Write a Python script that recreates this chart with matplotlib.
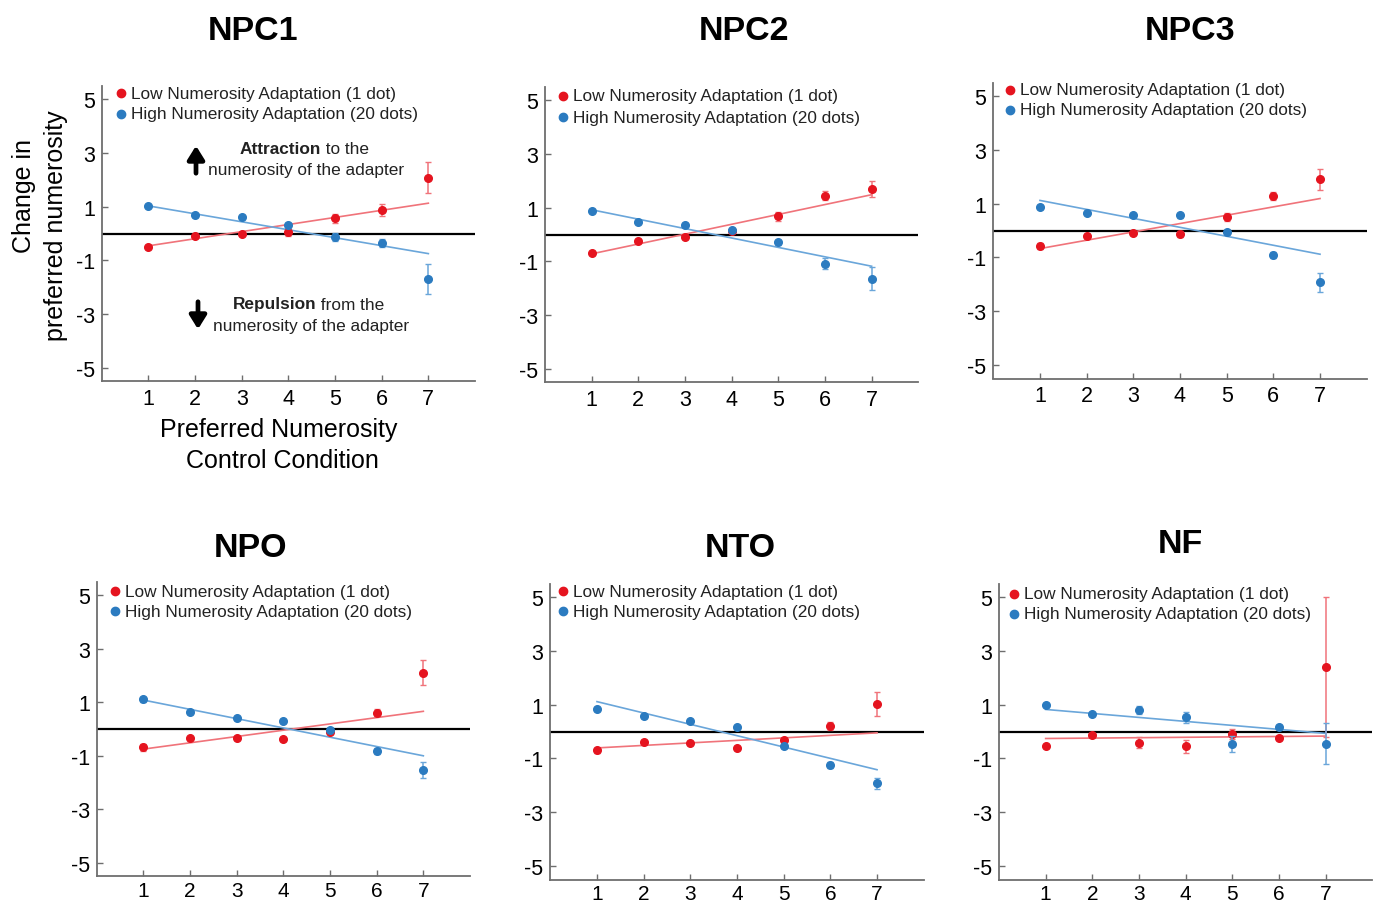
import matplotlib
matplotlib.use("Agg")
import matplotlib.pyplot as plt
from matplotlib.lines import Line2D
import numpy as np

plt.rcParams['font.family'] = ['Liberation Sans', 'DejaVu Sans']

W, H = 1380, 904

x_pos = [1, 2, 3, 4, 5, 6, 7]
titles = ["NPC1", "NPC2", "NPC3", "NPO", "NTO", "NF"]

low_vals = [
    [-0.52, -0.10, 0.00, 0.04, 0.56, 0.87, 2.08],
    [-0.70, -0.24, -0.11, 0.12, 0.67, 1.45, 1.70],
    [-0.58, -0.20, -0.09, -0.13, 0.50, 1.30, 1.90],
    [-0.69, -0.35, -0.35, -0.37, -0.12, 0.60, 2.10],
    [-0.70, -0.38, -0.43, -0.61, -0.31, 0.21, 1.03],
    [-0.55, -0.12, -0.41, -0.55, -0.09, -0.25, 2.41],
]
low_err = [
    [0.05, 0.07, 0.06, 0.12, 0.18, 0.22, 0.58],
    [0.07, 0.06, 0.06, 0.06, 0.17, 0.16, 0.30],
    [0.12, 0.06, 0.08, 0.10, 0.15, 0.15, 0.38],
    [0.13, 0.06, 0.06, 0.06, 0.06, 0.13, 0.47],
    [0.10, 0.06, 0.06, 0.06, 0.06, 0.15, 0.45],
    [0.06, 0.06, 0.20, 0.25, 0.20, 0.08, 2.60],
]
high_vals = [
    [1.03, 0.68, 0.60, 0.30, -0.12, -0.34, -1.69],
    [0.88, 0.47, 0.36, 0.15, -0.29, -1.08, -1.64],
    [0.88, 0.65, 0.56, 0.56, -0.06, -0.90, -1.93],
    [1.11, 0.62, 0.40, 0.31, -0.03, -0.82, -1.53],
    [0.84, 0.57, 0.39, 0.15, -0.55, -1.24, -1.92],
    [0.99, 0.64, 0.79, 0.53, -0.45, 0.18, -0.45],
]
high_err = [
    [0.05, 0.05, 0.06, 0.10, 0.15, 0.15, 0.56],
    [0.06, 0.05, 0.06, 0.07, 0.10, 0.20, 0.43],
    [0.07, 0.05, 0.06, 0.08, 0.08, 0.12, 0.37],
    [0.10, 0.05, 0.05, 0.05, 0.06, 0.12, 0.30],
    [0.06, 0.05, 0.05, 0.05, 0.06, 0.10, 0.20],
    [0.06, 0.05, 0.15, 0.20, 0.30, 0.06, 0.77],
]
# regression lines: value at x=1 and at x=7
low_fit = [
    [-0.46, 1.13],
    [-0.72, 1.48],
    [-0.67, 1.19],
    [-0.75, 0.66],
    [-0.61, -0.05],
    [-0.26, -0.17],
]
high_fit = [
    [1.03, -0.75],
    [0.92, -1.18],
    [1.12, -0.88],
    [1.08, -1.00],
    [1.11, -1.42],
    [0.82, -0.07],
]
fit_x = [1, 7]

y_ticks = [-5, -3, -1, 1, 3, 5]
legend_labels = ["Low Numerosity Adaptation (1 dot)", "High Numerosity Adaptation (20 dots)"]

RED = "#e5141f"
BLUE = "#2b7bc0"
RED_L = "#f0737a"
BLUE_L = "#6aa6da"
SPINE = "#6e6e6e"

# axes boxes in pixels: left, right, top, bottom
boxes = [
    (101.7, 475.0, 87.0, 382.0),
    (545.0, 918.3, 87.6, 383.4),
    (993.3, 1366.7, 83.6, 379.5),
    (96.7, 470.0, 582.6, 877.4),
    (550.3, 923.7, 584.5, 880.5),
    (999.0, 1372.3, 584.5, 880.5),
]
title_pos = [(253, 31), (744, 31), (1190, 31), (250, 549), (740, 549), (1180, 545)]
legend_pos = [(121, 94, 115), (563, 97, 118), (1010, 91, 111),
              (115, 592, 612), (563, 592, 612), (1014, 595, 615)]

fig = plt.figure(figsize=(W / 100, H / 100), dpi=100)


def fx(px):
    return px / W


def fy(py):
    return 1 - py / H


for i in range(6):
    l, r, t, b = boxes[i]
    ax = fig.add_axes([fx(l), fy(b), (r - l) / W, (b - t) / H])
    ax.set_xlim(0, 8)
    ax.set_ylim(-5.5, 5.5)
    for s in ["top", "right"]:
        ax.spines[s].set_visible(False)
    for s in ["left", "bottom"]:
        ax.spines[s].set_color(SPINE)
        ax.spines[s].set_linewidth(1.3)
    ax.set_xticks(x_pos)
    ax.set_yticks(y_ticks)
    ax.set_yticklabels([str(v) for v in y_ticks])
    ax.tick_params(direction="in", length=4, width=1, color=SPINE,
                   labelsize=15.5, pad=5)
    if i >= 3:
        ax.tick_params(axis="x", labelsize=15, pad=3)
    ax.axhline(0, color="black", lw=1.6, zorder=1)

    ax.plot(fit_x, low_fit[i], color=RED_L, lw=1.2, zorder=2)
    ax.plot(fit_x, high_fit[i], color=BLUE_L, lw=1.2, zorder=2)
    ax.errorbar(x_pos, low_vals[i], yerr=low_err[i], fmt="o", color=RED,
                ecolor=RED_L, elinewidth=1.1, capsize=2.5, capthick=1.0,
                markersize=5.5, zorder=3)
    ax.errorbar(x_pos, high_vals[i], yerr=high_err[i], fmt="o", color=BLUE,
                ecolor=BLUE_L, elinewidth=1.1, capsize=2.5, capthick=1.0,
                markersize=5.5, zorder=4)

    tx, ty = title_pos[i]
    fig.text(fx(tx), fy(ty), titles[i], ha="center", va="center",
             fontsize=24.5, fontweight="bold")

    lx, ly1, ly2 = legend_pos[i]
    for col, yy, lab in [(RED, ly1, legend_labels[0]), (BLUE, ly2, legend_labels[1])]:
        fig.add_artist(Line2D([fx(lx)], [fy(yy)], marker="o", color=col,
                              markersize=6, linestyle="none",
                              transform=fig.transFigure))
        fig.text(fx(lx + 10), fy(yy), lab, ha="left", va="center",
                 fontsize=12.4, color="#222222")

# axis labels of first panel
fig.text(fx(279), fy(430), "Preferred Numerosity", ha="center", va="center", fontsize=18)
fig.text(fx(282), fy(461), "Control Condition", ha="center", va="center", fontsize=18)
fig.text(fx(24), fy(196), "Change in", ha="center", va="center", fontsize=18, rotation=90)
fig.text(fx(56), fy(226), "preferred numerosity", ha="center", va="center", fontsize=18, rotation=90)

# annotations
fig.text(fx(321), fy(150), "Attraction", ha="right", va="center", fontsize=12.4,
         fontweight="bold", color="#222222")
fig.text(fx(321), fy(150), " to the", ha="left", va="center", fontsize=12.4, color="#222222")
fig.text(fx(306), fy(171), "numerosity of the adapter", ha="center", va="center",
         fontsize=12.4, color="#222222")
fig.text(fx(316), fy(305), "Repulsion", ha="right", va="center", fontsize=12.4,
         fontweight="bold", color="#222222")
fig.text(fx(316), fy(305), " from the", ha="left", va="center", fontsize=12.4, color="#222222")
fig.text(fx(311), fy(326), "numerosity of the adapter", ha="center", va="center",
         fontsize=12.4, color="#222222")

fig.patches.append(matplotlib.patches.FancyArrowPatch(
    (fx(196), fy(177)), (fx(196), fy(144)), transform=fig.transFigure,
    arrowstyle="-|>,head_length=8,head_width=5", lw=3.4, color="black",
    mutation_scale=1))
fig.patches.append(matplotlib.patches.FancyArrowPatch(
    (fx(198), fy(300)), (fx(198), fy(333)), transform=fig.transFigure,
    arrowstyle="-|>,head_length=8,head_width=5", lw=3.4, color="black",
    mutation_scale=1))

fig.savefig("out.png", dpi=100)
